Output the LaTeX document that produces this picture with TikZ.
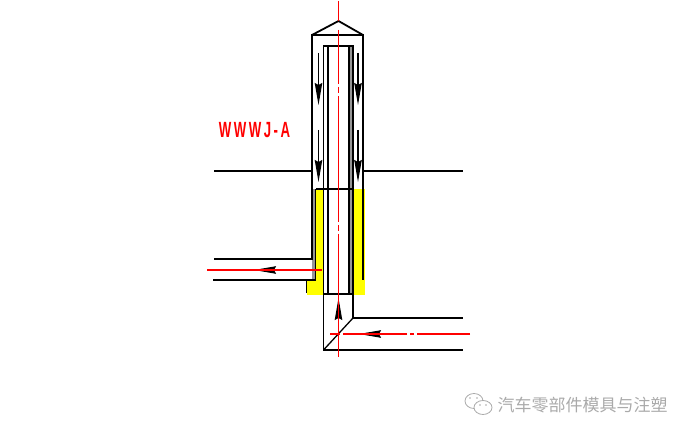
\documentclass[tikz,border=0pt]{standalone}
\usepackage{fontspec}
\setmainfont{Liberation Sans}
\newfontfamily\cjkfont{Noto Sans CJK SC}
\usetikzlibrary{arrows.meta,positioning}
\definecolor{dfyellow}{RGB}{255,255,0}
\definecolor{dfred}{RGB}{255,0,0}
\definecolor{dfgray}{RGB}{150,150,150}
\definecolor{dfmark}{RGB}{170,170,170}
\tikzstyle{wall} = [line width=1.8pt,color=black,line join=miter]
\tikzstyle{thinwall} = [line width=1.3pt,color=black]
\tikzstyle{flow} = [line width=1.1pt,color=black,-{Stealth[length=22pt,width=7.5pt,inset=2pt]}]
\tikzstyle{axis} = [line width=1.6pt,color=dfred]
\tikzstyle{bubble} = [draw=dfmark,line width=0.8pt,fill=white]
\begin{document}
\begin{tikzpicture}[x=1pt,y=-1pt]
\useasboundingbox (0,0) rectangle (689,435);

% Yellow packing
\fill[dfyellow] (316,189) rectangle (323.5,295);
\fill[dfyellow] (307,280) rectangle (323.5,295);
\fill[dfyellow] (353,189) rectangle (364.5,295);

% Gray wall bands
\fill[dfgray] (312,189) rectangle (315.5,280);
\fill[dfgray] (349,46) rectangle (353,294);

% Coordinates
\coordinate (apex) at (338.5,21);
\coordinate (shoulderL) at (312,35);
\coordinate (shoulderR) at (363,35);
\coordinate (tubeTL) at (323.5,46);
\coordinate (tubeTR) at (353,46);
\coordinate (tubeBL) at (323.5,294);
\coordinate (tubeBR) at (353,294);
\coordinate (elbowO) at (323.5,350);
\coordinate (elbowI) at (353,318);

% Outer body
\draw[wall] (214,171) -- (312,171);
\draw[wall] (363,171) -- (463,171);
\draw[wall] (shoulderL) -- (apex) -- (shoulderR);
\draw[wall] (214,259) -- (312,259) -- (shoulderL) -- (shoulderR) -- (363,280);
\draw[thinwall] (213,280) -- (315.5,280) -- (315.5,189);
\draw[thinwall] (306.5,280) -- (306.5,293);

% Inner tube
\draw[wall] (tubeBL) -- (tubeTL) -- (tubeTR) -- (tubeBR);
\draw[thinwall] (328,46) -- (328,294);
\draw[thinwall] (349,46) -- (349,294);
\draw[wall] (tubeBL) -- (tubeBR);
\draw[wall] (tubeTL |- 0,189) -- (tubeTR |- 0,189);
\draw[wall] (316,189) -- (323.5,189);

% Elbow
\draw[wall] (tubeBL) -- (elbowO) -- (463,350);
\draw[wall] (tubeBR) -- (elbowI) -- (463,318);
\draw[thinwall] (elbowO) -- (elbowI);

% Flow arrows
\foreach \px in {318.5,358} {
\draw[flow] (\px,53) -- (\px,105);
\draw[flow] (\px,130) -- (\px,182);
}
\draw[flow] (338.5,320) -- (338.5,298);
\draw[flow] (380,334) -- (359,334);
\draw[flow] (275,270) -- (254,270);

% Center lines
\draw[axis,dash pattern=on 20pt off 9pt on 54pt off 3pt on 6pt off 3pt on 126pt off 3pt on 6pt off 3pt on 123pt] (338.5,1) -- (338.5,357);
\draw[axis,dash pattern=on 53pt off 3pt on 4pt off 3pt on 64pt off 3pt on 10pt] (470,334) -- (330,334);
\draw[axis] (207,270) -- (322,270);

% Label
\node[text=dfred,xscale=0.6,transform shape,font=\bfseries\fontsize{22}{22}\selectfont\addfontfeature{LetterSpace=19}] (label) at (254.5,130) {WWWJ-A};

% Watermark
\node[text=dfmark,font=\cjkfont\fontsize{17}{17}\selectfont,anchor=west] (mark) at (494,405) {汽车零部件模具与注塑};
\draw[bubble] (474,401) ellipse (9pt and 7.5pt);
\draw[bubble] (483,407.5) ellipse (9pt and 7pt);
\foreach \px/\py in {470/398,477/398,480/405,486/405} {
\fill[dfmark] (\px,\py) circle (0.9pt);
}
\end{tikzpicture}
\end{document}
